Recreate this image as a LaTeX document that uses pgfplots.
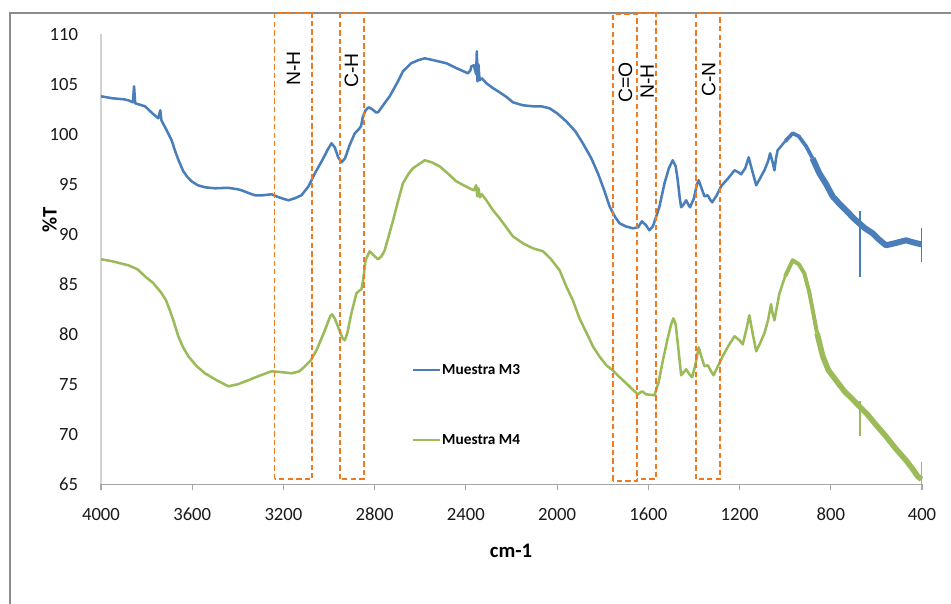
\documentclass[border=0pt]{standalone}
\usepackage{pgfplots}
\pgfplotsset{compat=1.18}
\usepackage{fontspec}
\setmainfont{Carlito}
\newfontfamily\arialf{Liberation Sans}
\definecolor{bl}{HTML}{4A7EBB}
\definecolor{gr}{HTML}{9BBB59}
\definecolor{orn}{HTML}{F07A22}
\definecolor{frm}{HTML}{8C8C8C}
\begin{document}
\begin{tikzpicture}
\useasboundingbox (0,0) rectangle (713.25pt,453pt);
\draw[frm, line width=0.9pt] (7.5pt,0) -- (7.5pt,443.25pt) -- (713.25pt,443.25pt);
\begin{axis}[
  at={(75.75pt,89.78pt)}, anchor=south west,
  scale only axis, width=615.75pt, height=337.5pt,
  x dir=reverse, xmin=400, xmax=4000, ymin=65, ymax=110,
  xtick={400,800,...,4000}, ytick={65,70,...,110},
  axis x line*=bottom, axis y line*=left,
  x axis line style={draw=gray!70, line width=0.8pt},
  y axis line style={draw=gray!35, line width=0.8pt},
  xtick style={draw=gray!70, line width=0.8pt},
  ytick style={draw=none},
  tick align=outside, major tick length=4.5pt,
  /pgf/number format/1000 sep={},
  /pgf/number format/assume math mode=true,
  tick label style={font=\fontsize{14}{16}\selectfont, text=black!90},
  yticklabel style={inner sep=0pt, xshift=-12.5pt},
  xticklabel style={inner sep=0pt, yshift=-13pt},
  xlabel={\bfseries cm-1}, ylabel={\bfseries\%T},
  label style={font=\fontsize{15.5}{18}\selectfont},
  xlabel style={at={(axis description cs:0.4994,-0.148)}, anchor=center},
  ylabel style={at={(axis description cs:-0.0627,0.587)}, anchor=center},
  clip=false,
  legend style={draw=none, fill=none, inner sep=0pt,
    at={(axis cs:2637,77.15)}, anchor=north west,
    font=\bfseries\fontsize{11.5}{13}\selectfont, row sep=41.5pt,
    nodes={inner sep=1pt}},
  legend cell align=left,
  legend image code/.code={\draw[#1, line width=1.6pt] (0pt,0pt) -- (20pt,0pt);},
]
% Blue M3 main
\addplot[bl, line width=1.9pt, line join=round] coordinates {
(4000,103.8) (3950,103.6) (3900,103.5) (3880,103.4) (3860,103.2) (3855,104.8) (3850,103.1)
(3807,102.8) (3770,102.0) (3749,101.6) (3740,102.4) (3735,101.4) (3712,100.4) (3690,99.4)
(3676,98.4) (3660,97.4) (3639,96.3) (3620,95.7) (3603,95.3) (3575,94.9) (3544,94.7)
(3500,94.6) (3442,94.65) (3400,94.5) (3384,94.4) (3350,94.1) (3325,93.9) (3290,93.9)
(3252,94.0) (3220,93.7) (3179,93.4) (3150,93.6) (3121,93.9) (3090,94.8) (3062,96.1)
(3030,97.4) (3005,98.5) (2989,99.1) (2975,98.7) (2960,97.7) (2945,97.2) (2930,97.6)
(2910,98.9) (2887,100.1) (2870,100.5) (2860,100.8) (2851,101.8) (2840,102.4) (2826,102.7)
(2810,102.5) (2795,102.2) (2785,102.2) (2760,103.0) (2734,103.8) (2700,105.2) (2676,106.3)
(2640,107.1) (2610,107.4) (2580,107.6) (2540,107.4) (2485,107.1) (2440,106.6) (2391,106.1)
(2380,106.4) (2376,106.8) (2365,106.9) (2355,106.0) (2352,108.3) (2349,105.3) (2345,107.0)
(2340,105.4) (2330,105.6) (2310,105.1) (2280,104.6) (2252,104.2) (2220,103.7) (2194,103.2)
(2150,102.9) (2106,102.8) (2070,102.8) (2033,102.6) (2000,102.1) (1960,101.3) (1920,100.3)
(1887,99.1) (1850,97.6) (1821,96.1) (1795,94.5) (1770,92.8) (1745,91.7) (1726,91.1)
(1700,90.8) (1668,90.6) (1645,90.7) (1628,91.3) (1610,90.9) (1595,90.4) (1580,90.8)
(1565,91.8) (1551,92.8) (1529,95.1) (1510,96.6) (1493,97.4) (1480,96.8) (1471,95.4)
(1462,93.6) (1456,92.7) (1445,93.0) (1434,93.4) (1425,93.0) (1417,92.7) (1400,93.6)
(1387,95.0) (1379,95.4) (1365,94.5) (1354,93.8) (1339,93.9) (1330,93.5) (1320,93.2)
(1300,93.9) (1281,94.8) (1250,95.6) (1222,96.4) (1205,96.2) (1193,96.0) (1175,96.6)
(1160,97.7) (1145,96.4) (1127,94.9) (1110,95.6) (1091,96.4) (1075,97.3) (1066,98.1)
(1055,97.2) (1047,96.4) (1040,97.6) (1033,98.4) (1000,99.3)
};
\addlegendentry{Muestra M3}
% Green M4 main
\addplot[gr, line width=1.9pt, line join=round] coordinates {
(4000,87.5) (3950,87.3) (3880,86.9) (3840,86.5) (3807,85.8) (3770,85.1) (3734,84.1)
(3715,83.4) (3698,82.4) (3680,81.2) (3661,79.8) (3640,78.7) (3617,77.8) (3580,76.8)
(3544,76.1) (3500,75.5) (3442,74.8) (3400,75.0) (3355,75.4) (3300,75.9) (3252,76.3)
(3200,76.2) (3165,76.1) (3130,76.3) (3106,76.8) (3080,77.4) (3055,78.4) (3020,80.3)
(2995,81.8) (2987,82.0) (2975,81.6) (2953,80.3) (2940,79.6) (2931,79.4) (2920,80.1)
(2902,82.1) (2880,84.1) (2865,84.4) (2858,84.5) (2850,85.5) (2840,87.4) (2822,88.3)
(2800,87.8) (2785,87.5) (2770,87.8) (2756,88.4) (2740,89.7) (2719,91.4) (2700,93.1)
(2676,95.1) (2650,96.1) (2632,96.6) (2600,97.1) (2580,97.4) (2550,97.2) (2515,96.8)
(2480,96.1) (2442,95.3) (2410,94.9) (2384,94.6) (2365,94.4) (2355,94.9) (2350,93.8)
(2345,94.6) (2338,93.7) (2330,94.0) (2310,93.4) (2281,92.4) (2252,91.6) (2194,89.8)
(2150,89.1) (2106,88.6) (2062,88.3) (2030,87.6) (1989,86.4) (1960,84.8) (1931,83.4)
(1902,81.6) (1870,80.1) (1843,78.8) (1815,77.8) (1784,76.9) (1756,76.4) (1730,75.8)
(1697,75.1) (1670,74.5) (1646,74.0) (1627,74.3) (1610,74.0) (1573,73.9) (1555,75.2)
(1536,77.4) (1515,79.6) (1500,81.0) (1490,81.6) (1480,81.0) (1468,78.5) (1456,75.9)
(1445,76.2) (1434,76.5) (1420,76.0) (1408,75.7) (1395,76.8) (1379,78.7) (1365,77.6)
(1354,76.8) (1339,76.9) (1325,76.3) (1314,75.9) (1295,76.8) (1274,77.8) (1250,78.8)
(1222,79.8) (1200,79.4) (1186,79.0) (1170,80.5) (1157,81.9) (1145,80.4) (1127,78.3)
(1110,79.1) (1091,80.1) (1075,81.4) (1062,83.0) (1055,82.1) (1047,81.4) (1035,82.9)
(1025,84.1) (1000,85.8)
};
\addlegendentry{Muestra M4}
% noisy parts, blue
\addplot[bl, line width=2.8pt, line join=round, forget plot] coordinates {
(1000,99.3) (967,100.1) (940,99.8) (908,98.8) (880,97.6)
};
\addplot[bl, line width=4.5pt, line join=round, forget plot] coordinates {
(880,97.6) (850,96.1) (820,95.0) (792,93.8) (760,93.0) (733,92.4) (700,91.6) (680,91.2)
(650,90.6) (616,90.1) (590,89.5) (558,88.9) (520,89.1) (470,89.4) (440,89.2) (405,89.0) (401,89.0)
};
\addplot[bl, line width=1.2pt, forget plot] coordinates {(672,92.3) (672,85.7)};
\addplot[bl, line width=1.2pt, forget plot] coordinates {(402,90.6) (402,87.2)};
% noisy parts, green
\addplot[gr, line width=3pt, line join=round, forget plot] coordinates {
(1000,85.8) (967,87.4) (940,87.0) (916,86.1) (895,84.3) (879,82.4) (860,80.1)
};
\addplot[gr, line width=4.2pt, line join=round, forget plot] coordinates {
(860,80.1) (835,77.8) (810,76.4) (777,75.4) (740,74.3) (700,73.4) (675,72.8) (640,72.0)
(600,70.9) (558,69.8) (520,68.7) (470,67.4) (440,66.5) (419,65.8) (402,65.5)
};
\addplot[gr, line width=1.2pt, forget plot] coordinates {(672,73.3) (672,69.8)};
\addplot[gr, line width=1.2pt, forget plot] coordinates {(402,67.2) (402,65.0)};
% dashed boxes
\begin{scope}[line width=1.35pt, dash pattern=on 4pt off 2.4pt]
\draw[draw=orn] (axis cs:3239,65.5) rectangle (axis cs:3073,112.13);
\draw[draw=orn] (axis cs:2953,65.5) rectangle (axis cs:2848,112.13);
\draw[draw=orn] (axis cs:1756,65.36) rectangle (axis cs:1648,112.0);
\draw[draw=orn] (axis cs:1648,112.13) -- (axis cs:1566,112.13) -- (axis cs:1566,65.5) -- (axis cs:1648,65.5);
\draw[draw=orn] (axis cs:1392,65.5) rectangle (axis cs:1286,112.13);
\end{scope}
\begin{scope}[every node/.style={rotate=90, font=\arialf\fontsize{14.5}{16}\selectfont, inner sep=0pt}]
\node at (axis cs:3156,106.6) {N-H};
\node at (axis cs:2902,106.4) {C-H};
\node at (axis cs:1700,105.2) {C=O};
\node at (axis cs:1605,105.3) {N-H};
\node at (axis cs:1335,105.5) {C-N};
\end{scope}
\end{axis}
\end{tikzpicture}
\end{document}
